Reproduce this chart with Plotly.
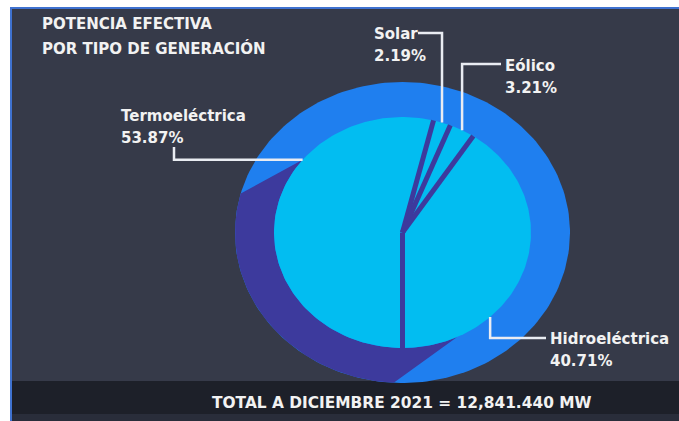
import numpy as np
import plotly.graph_objects as go

# ---- data -------------------------------------------------------------
categories = ["Termoeléctrica", "Solar", "Eólico", "Hidroeléctrica"]
shares = [53.87, 2.19, 3.21, 40.71]          # % of effective capacity
title_lines = ["POTENCIA EFECTIVA", "POR TIPO DE GENERACIÓN"]
total_text = "TOTAL A DICIEMBRE 2021 = 12,841.440 MW"

# ---- geometry / style -------------------------------------------------
W, H = 679, 421
CX, CY = 402.5, 232.5                 # pie centre (pixel space)
RX_IN, RY_IN = 128.5, 115.5           # inner disc radii
RX_OUT, RY_OUT = 167.5, 150.5         # outer ring radii
START = 180                           # first slice starts at 6 o'clock, clockwise

BG = "#363a49"
BAR = "#1d2029"
CYAN = "#02bdf1"
BLUE = "#1f7fef"
PURPLE = "#3d3a9d"
TEXT = "#f2f2f2"
LEADER = "#e9ecf2"
RULE = "#3f72d0"
FONT = "DejaVu Sans"


def pt(phi, rx, ry):
    """Point on the ellipse at clock angle phi (degrees, clockwise from 12)."""
    a = np.radians(phi)
    return CX + rx * np.sin(a), CY - ry * np.cos(a)


def arc(p0, p1, rx, ry, n=120):
    phis = np.linspace(p0, p1, n)
    return pt(phis, rx, ry)


def px(x):
    return x / W


def py(y):
    return 1 - y / H


fig = go.Figure()

# outer ring: blue disc with a purple shaded segment on the lower left
ox, oy = arc(0, 360, RX_OUT, RY_OUT, 240)
fig.add_trace(go.Scatter(x=ox, y=oy, fill="toself", fillcolor=BLUE,
                         line=dict(width=0), mode="lines", hoverinfo="skip",
                         showlegend=False))
sx_o, sy_o = arc(183, 285, RX_OUT, RY_OUT)
sx_i, sy_i = arc(309, 155, RX_IN, RY_IN)
fig.add_trace(go.Scatter(x=np.r_[sx_o, sx_i], y=np.r_[sy_o, sy_i],
                         fill="toself", fillcolor=PURPLE, line=dict(width=0),
                         mode="lines", hoverinfo="skip", showlegend=False))

# inner pie slices
total = sum(shares)
bounds = START + np.r_[0, np.cumsum(shares)] / total * 360
for name, v, b0, b1 in zip(categories, shares, bounds[:-1], bounds[1:]):
    axp, ayp = arc(b0, b1, RX_IN, RY_IN)
    fig.add_trace(go.Scatter(x=np.r_[CX, axp, CX], y=np.r_[CY, ayp, CY],
                             fill="toself", fillcolor=CYAN, line=dict(width=0),
                             mode="lines", name=name,
                             hovertemplate=f"{name}: {v:.2f}%<extra></extra>",
                             showlegend=False))

# slice separators
for b in bounds[:-1]:
    ex, ey = pt(b, RX_IN, RY_IN)
    fig.add_trace(go.Scatter(x=[CX, ex], y=[CY, ey], mode="lines",
                             line=dict(color=PURPLE, width=5),
                             hoverinfo="skip", showlegend=False))

# labels with elbow leader lines
label_pos = [(119, 116), (372, 34), (503, 66), (548, 339)]
leaders = [
    dict(anchor=309, turn="h", to=(174, 147)),
    dict(anchor=None, turn="v", to=(418, 33)),
    dict(anchor=None, turn="v", to=(501, 64)),
    dict(anchor=137, turn="v", to=(546, 338)),
]
annotations = []
for i, (name, v) in enumerate(zip(categories, shares)):
    ld = leaders[i]
    phi = ld["anchor"] if ld["anchor"] is not None else (bounds[i] + bounds[i + 1]) / 2
    ax_, ay_ = pt(phi, RX_IN, RY_IN)
    tx, ty = ld["to"]
    if ld["turn"] == "h":
        xs, ys = [ax_, tx, tx], [ay_, ay_, ty]
    else:
        xs, ys = [ax_, ax_, tx], [ay_, ty, ty]
    fig.add_trace(go.Scatter(x=xs, y=ys, mode="lines",
                             line=dict(color=LEADER, width=2.5),
                             hoverinfo="skip", showlegend=False))
    lx, ly = label_pos[i]
    for txt, yy in ((name, ly), (f"{v:.2f}%", ly + 22)):
        annotations.append(dict(x=lx, y=yy, xref="x", yref="y", text=txt,
                                showarrow=False, xanchor="left", yanchor="middle",
                                font=dict(family=FONT, size=15, color=TEXT,
                                          weight="bold")))

# title and footer
for txt, yy in zip(title_lines, (24, 48)):
    annotations.append(dict(x=40, y=yy, xref="x", yref="y", text=txt,
                            showarrow=False, xanchor="left", yanchor="middle",
                            font=dict(family=FONT, size=15, color=TEXT,
                                      weight="bold")))
annotations.append(dict(x=402, y=403, xref="x", yref="y", text=total_text,
                        showarrow=False, xanchor="center", yanchor="middle",
                        font=dict(family=FONT, size=15.4, color=TEXT,
                                  weight="bold")))

# page frame in paper space: footer band, blue rule and white edge top/left
shapes = [
    dict(type="rect", xref="paper", yref="paper", x0=0, y0=0, x1=1,
         y1=py(381), fillcolor=BAR, line=dict(width=0), layer="below"),
    dict(type="rect", xref="paper", yref="paper", x0=0, y0=0, x1=1,
         y1=py(414), fillcolor="#292d3a", line=dict(width=0), layer="below"),
    # blue rule along the top and left edges of the panel
    dict(type="rect", xref="paper", yref="paper", x0=px(10), y0=0, x1=px(12),
         y1=py(7), fillcolor=RULE, line=dict(width=0), layer="below"),
    dict(type="rect", xref="paper", yref="paper", x0=px(10), y0=py(9), x1=1,
         y1=py(7), fillcolor=RULE, line=dict(width=0), layer="below"),
    # white page edge
    dict(type="rect", xref="paper", yref="paper", x0=0, y0=0, x1=px(10),
         y1=1, fillcolor="white", line=dict(width=0), layer="below"),
    dict(type="rect", xref="paper", yref="paper", x0=0, y0=py(7), x1=1,
         y1=1, fillcolor="white", line=dict(width=0), layer="below"),
]

fig.update_layout(
    width=W, height=H, margin=dict(l=0, r=0, t=0, b=0, pad=0),
    paper_bgcolor=BG, plot_bgcolor="rgba(0,0,0,0)",
    xaxis=dict(range=[0, W], visible=False, fixedrange=True),
    yaxis=dict(range=[H, 0], visible=False, fixedrange=True),
    shapes=shapes, annotations=annotations, showlegend=False,
)

fig.write_html("out.html", config={"displayModeBar": False})
